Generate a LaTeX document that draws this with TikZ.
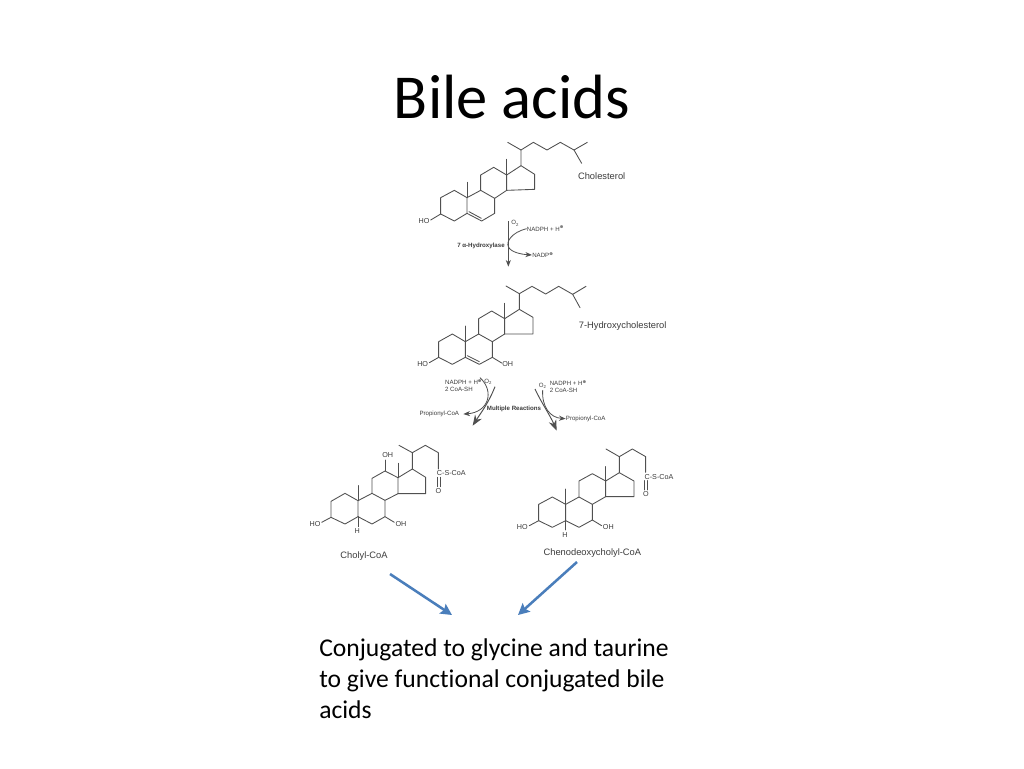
\documentclass[tikz,border=0pt]{standalone}
\usepackage{fontspec}
\setmainfont{Liberation Sans}
\newfontfamily\calib[Ligatures=NoCommon]{Carlito}
\newfontfamily\dejav{DejaVu Sans}
\usetikzlibrary{arrows.meta}
\definecolor{bondc}{HTML}{505050}
\definecolor{txtc}{HTML}{3C3C3C}
\definecolor{bluearr}{HTML}{4A7EBB}
\newcommand{\oplusup}{\textsuperscript{\dejav\bfseries ⊕}}
\tikzset{
  bond/.style={draw=bondc,line width=.65pt,line join=round,line cap=round},
  rxn/.style={draw=bondc,line width=.6pt,-{Stealth[length=5pt,width=3.8pt]}},
  rxnbig/.style={draw=bondc,line width=.7pt,-{Stealth[length=8pt,width=6pt]}},
  atom/.style={font=\fontsize{5.4}{6}\selectfont,text=txtc,inner sep=0pt},
  cname/.style={font=\fontsize{7}{8}\selectfont,text=txtc,inner sep=0pt},
  small/.style={font=\fontsize{4.6}{5.2}\selectfont,text=txtc,inner sep=0pt},
  smallb/.style={font=\fontsize{4.6}{5}\selectfont\bfseries,text=txtc,inner sep=0pt},
  blue/.style={draw=bluearr,line width=1.9pt,-{Stealth[length=8.5pt,width=8.5pt,inset=1.5pt]}},
}
\begin{document}
\begin{tikzpicture}[x=.75pt,y=-.75pt]
\useasboundingbox (0,0) rectangle (1024,768);
\fill[white] (0,0) rectangle (1024,768);
\node[font=\calib\fontsize{46.9}{50}\selectfont,text=black,inner sep=0pt] (title) at (512,97) {Bile acids};

% Cholesterol
\begin{scope}[shift={(400,135)},x=.25pt,y=-.25pt]
\draw[bond] (122,237)--(122,188)--(163,166)--(201,188)--(201,235)--(163,258)--cycle;
\draw[bond] (201,235)--(245,258)--(284,235)--(284,190)--(242,166)--(201,188);
\draw[bond] (207,230)--(244,250);
\draw[bond] (242,166)--(242,120)--(281,97)--(320,120)--(320,166)--(284,190);
\draw[bond] (320,120)--(363,92)--(404,118)--(404,163)--(320,166);
\draw[bond] (201,188)--(201,142);
\draw[bond] (320,120)--(320,73);
\draw[bond] (363,92)--(363,45)--(323,22);
\draw[bond] (363,45)--(400,22)--(441,45)--(481,22)--(522,45)--(562,22);
\draw[bond] (522,45)--(545,85);
\draw[bond] (122,237)--(92,255);
\node[atom] (ho1) at (72,257) {HO};
\node[cname] (n1) at (605,124) {Cholesterol};
\node[small] (o1) at (346,265) {O\textsubscript{2}};
\node[small,anchor=west] (nadph1) at (380,281) {NADPH + H\oplusup};
\node[small,anchor=west] (nadp1) at (396,360) {NADP\oplusup};
\node[smallb] (hyd) at (243,332) {7 α-Hydroxylase};
\coordinate (t1) at (325,258);
\coordinate (b1) at (325,395);
\draw[rxn] (t1)--(b1);
\draw[rxn] (nadph1.west) .. controls (335,292) and (318,320) .. (325,335) .. controls (332,352) and (365,358) .. (nadp1.west);
\end{scope}

% 7-Hydroxycholesterol
\begin{scope}[shift={(400,275)},x=.25pt,y=-.25pt]
\draw[bond] (116,247)--(116,200)--(157,177)--(196,200)--(196,247)--(157,268)--cycle;
\draw[bond] (196,247)--(238,268)--(277,247)--(277,200)--(236,177)--(196,200);
\draw[bond] (202,242)--(238,260);
\draw[bond] (236,177)--(236,131)--(275,108)--(314,131)--(314,177)--(277,200);
\draw[bond] (314,131)--(358,103)--(399,127)--(399,177)--(314,177);
\draw[bond] (196,200)--(196,153);
\draw[bond] (314,131)--(314,85);
\draw[bond] (358,103)--(358,56)--(318,33);
\draw[bond] (358,56)--(396,34)--(437,57)--(476,34)--(518,58)--(558,34);
\draw[bond] (518,58)--(540,98);
\draw[bond] (116,247)--(88,263);
\draw[bond] (277,247)--(305,264);
\node[atom] (ho2) at (68,267) {HO};
\node[atom] (oh2) at (323,267) {OH};
\node[cname] (n2) at (668,152) {7-Hydroxycholesterol};
\node[small] (nad2a) at (191,335) {\begin{tabular}{@{}l@{}}NADPH + H\oplusup\\2 CoA-SH\end{tabular}};
\node[small] (o2a) at (265,320) {O\textsubscript{2}};
\node[small] (o2b) at (428,332) {O\textsubscript{2}};
\node[small] (nad2b) at (505,338) {\begin{tabular}{@{}l@{}}NADPH + H\oplusup\\2 CoA-SH\end{tabular}};
\node[smallb] (multi) at (342,403) {Multiple Reactions};
\node[small,anchor=east] (pr1) at (178,418) {Propionyl-CoA};
\node[small,anchor=west] (pr2) at (497,431) {Propionyl-CoA};
\coordinate (ta) at (285,335);
\coordinate (ba) at (218,452);
\coordinate (tb) at (405,342);
\coordinate (bb) at (470,467);
\coordinate (sa) at (240,308);
\coordinate (sb) at (428,345);
\draw[rxnbig] (ta) .. controls (265,385) and (245,410) .. (ba);
\draw[rxn,shorten >=3pt] (sa) .. controls (285,350) and (265,412) .. (pr1.east);
\draw[rxnbig] (tb) .. controls (425,385) and (450,420) .. (bb);
\draw[rxn] (sb) .. controls (425,395) and (450,428) .. (pr2.west);
\end{scope}

% Cholyl-CoA
\begin{scope}[shift={(300,435)},x=.25pt,y=-.25pt]
\draw[bond] (93,247)--(93,199)--(135,175)--(174,197)--(174,245)--(135,267)--cycle;
\draw[bond] (174,245)--(216,267)--(255,245)--(255,196)--(216,175)--(174,197);
\draw[bond] (216,175)--(216,130)--(255,108)--(294,128)--(294,176)--(255,196);
\draw[bond] (294,128)--(337,102)--(377,127)--(377,176)--(294,176);
\draw[bond] (174,197)--(174,152);
\draw[bond] (294,128)--(294,85);
\draw[bond] (255,108)--(255,75);
\draw[bond] (337,102)--(337,53)--(297,31);
\draw[bond] (337,53)--(376,31)--(415,53)--(415,102);
\draw[bond] (411,127)--(411,155);
\draw[bond] (420,127)--(420,155);
\draw[bond] (93,247)--(65,262);
\draw[bond] (255,245)--(283,262);
\draw[bond] (174,245)--(174,275);
\node[atom] (ho3) at (45,267) {HO};
\node[atom] (oh3a) at (303,267) {OH};
\node[atom] (oh3b) at (263,60) {OH};
\node[atom] (h3) at (172,289) {H};
\node[atom] (cs3) at (454,115) {C-S-CoA};
\node[atom] (o3) at (415,168) {O};
\node[cname] (n3) at (192,362) {Cholyl-CoA};
\end{scope}

% Chenodeoxycholyl-CoA
\begin{scope}[shift={(505,435)},x=.25pt,y=-.25pt]
\draw[bond] (101,257)--(101,208)--(142,186)--(182,208)--(182,257)--(142,277)--cycle;
\draw[bond] (182,257)--(222,277)--(262,255)--(262,208)--(222,186)--(182,208);
\draw[bond] (222,186)--(222,138)--(262,116)--(302,138)--(302,185)--(262,208);
\draw[bond] (302,138)--(343,113)--(387,138)--(387,185)--(302,185);
\draw[bond] (182,208)--(182,162);
\draw[bond] (302,138)--(302,95);
\draw[bond] (343,113)--(343,65)--(303,42);
\draw[bond] (343,65)--(382,42)--(422,65)--(422,112);
\draw[bond] (418,137)--(418,165);
\draw[bond] (427,137)--(427,165);
\draw[bond] (101,257)--(73,272);
\draw[bond] (262,255)--(290,272);
\draw[bond] (182,257)--(182,285);
\node[atom] (ho4) at (52,277) {HO};
\node[atom] (oh4) at (310,277) {OH};
\node[atom] (h4) at (180,300) {H};
\node[atom] (cs4) at (462,125) {C-S-CoA};
\node[atom] (o4) at (423,178) {O};
\node[cname] (n4) at (262,354) {Chenodeoxycholyl-CoA};
\end{scope}

% Blue arrows
\coordinate (ba1) at (390,574);
\coordinate (ba2) at (452,615);
\coordinate (bb1) at (577,562);
\coordinate (bb2) at (518,615);
\draw[blue] (ba1)--(ba2);
\draw[blue] (bb1)--(bb2);

\node[anchor=north west,font=\calib\fontsize{19.2}{23.25}\selectfont,text=black,inner sep=0pt,align=left] (cap) at (319,638) {Conjugated to glycine and taurine\\to give functional conjugated bile\\acids};
\end{tikzpicture}
\end{document}
